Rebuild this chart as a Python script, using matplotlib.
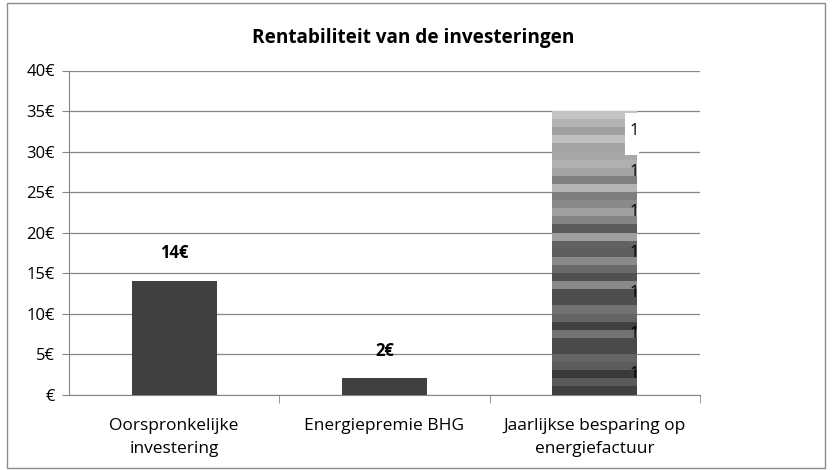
import matplotlib.pyplot as plt
from matplotlib.patches import Rectangle

# data
categories = ["Oorspronkelijke\ninvestering", "Energiepremie BHG",
              "Jaarlijkse besparing op\nenergiefactuur"]
single_values = [14, 2]
single_labels = ["14€", "2€"]
savings_parts = [1, 1, 1, 1, 1, 1, 1, 1, 1, 1, 1, 1, 1, 1, 1, 1, 1, 1,
                 1, 1, 1, 1, 1, 1, 1, 1, 1, 1, 1, 1, 1, 1, 1, 1, 1]
yticks = [0, 5, 10, 15, 20, 25, 30, 35, 40]

# gray shade of every stacked piece, bottom to top
part_colors = ["#404040", "#5a5a5a", "#3a3a3a", "#5c5c5c", "#646464",
               "#4a4a4a", "#4a4a4a", "#727272", "#404040", "#646464",
               "#727272", "#4e4e4e", "#4e4e4e", "#8a8a8a", "#505050",
               "#6a6a6a", "#8a8a8a", "#5e5e5e", "#626262", "#a0a0a0",
               "#5a5a5a", "#848484", "#a0a0a0", "#8a8a8a", "#7e7e7e",
               "#b4b4b4", "#808080", "#a4a4a4", "#b0b0b0", "#a8a8a8",
               "#a4a4a4", "#c0c0c0", "#a0a0a0", "#b4b4b4", "#c4c4c4"]

plt.rcParams['font.family'] = ['Open Sans', 'DejaVu Sans']

fig = plt.figure(figsize=(8.32, 4.70), dpi=100)
fig.patches.append(Rectangle((0.008, 0.004), 0.984, 0.99, transform=fig.transFigure,
                             fill=False, edgecolor="#8c8c8c", linewidth=1))
ax = fig.add_axes([0.0829, 0.1606, 0.7584, 0.6894])

width = 0.405
ax.bar([0, 1], single_values, width=width, color="#404040", zorder=2)
for i, (v, lab) in enumerate(zip(single_values, single_labels)):
    ax.annotate(lab, (i, v), xytext=(0, 20), textcoords="offset points",
                ha="center", va="center", fontsize=12, fontweight="bold")

bottom = 0
for k, (v, c) in enumerate(zip(savings_parts, part_colors)):
    ax.bar(2, v, width=width, bottom=bottom, color=c, zorder=2)
    if k % 5 == 2:
        ax.text(2 + width / 2 + 0.006, bottom + v / 2, str(v), ha="right", va="center",
                fontsize=12, zorder=4)
    bottom += v

# white label box sitting over the top of the stack
total = sum(savings_parts)
ax.add_patch(Rectangle((2 + width / 2 - 0.057, total - 5.4), 0.057 + 0.01, 5.2,
                       facecolor="white", edgecolor="none", zorder=3))

ax.set_xlim(-0.5, 2.5)
ax.set_ylim(0, 40)
ax.set_yticks(yticks)
ax.set_yticklabels([f"{t}€" if t else "€" for t in yticks], fontsize=12)
ax.set_xticks([0, 1, 2])
ax.set_xticklabels(categories, fontsize=12.5, linespacing=1.55)
ax.set_xticks([0.5, 1.5, 2.5], minor=True)
ax.tick_params(axis="x", which="major", length=0, pad=17)
ax.tick_params(axis="x", which="minor", length=6, color="#868686")
ax.tick_params(axis="y", length=5, color="#868686", pad=5)
ax.yaxis.grid(True, color="#868686", linewidth=0.9, zorder=0)
ax.set_axisbelow(True)
for s in ["top", "right"]:
    ax.spines[s].set_visible(False)
for s in ["left", "bottom"]:
    ax.spines[s].set_color("#868686")

fig.text(0.497, 0.92, "Rentabiliteit van de investeringen", ha="center",
         va="center", fontsize=13.7, fontweight="bold")

fig.savefig("out.png", dpi=100)
